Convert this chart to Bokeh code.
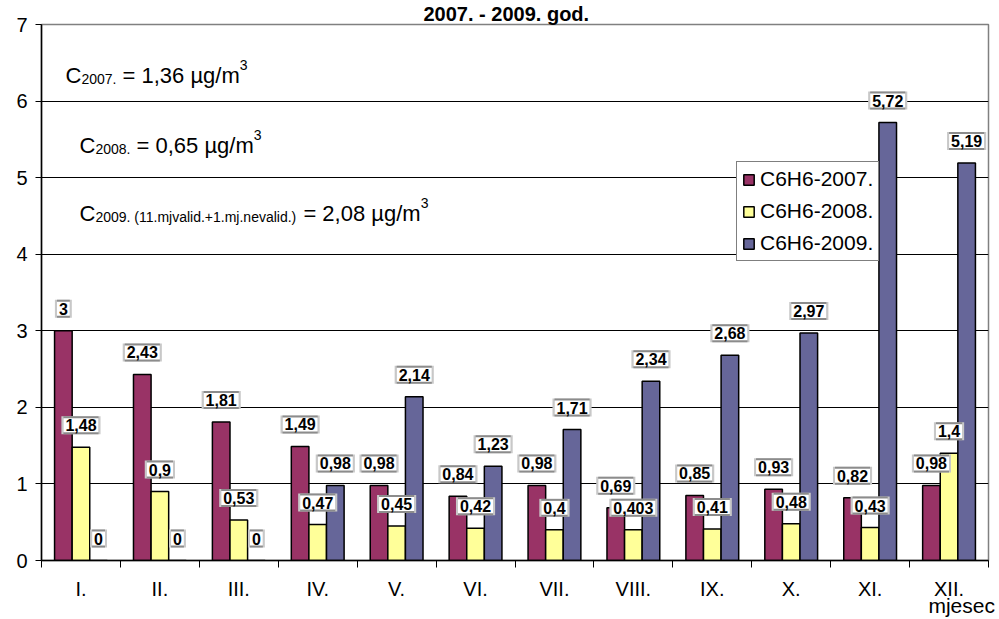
from bokeh.plotting import figure
from bokeh.models import (Range1d, FixedTicker, Legend, LegendItem, Label,
                          ColumnDataSource, LinearAxis, CustomJSTickFormatter)
from bokeh.core.properties import value
from bokeh.embed import file_html
from bokeh.resources import INLINE

# Monthly benzene (C6H6) means, ug/m3
months = ["I.", "II.", "III.", "IV.", "V.", "VI.", "VII.", "VIII.", "IX.", "X.", "XI.", "XII."]
c6h6_2007 = [3, 2.43, 1.81, 1.49, 0.98, 0.84, 0.98, 0.69, 0.85, 0.93, 0.82, 0.98]
c6h6_2008 = [1.48, 0.9, 0.53, 0.47, 0.45, 0.42, 0.4, 0.403, 0.41, 0.48, 0.43, 1.4]
c6h6_2009 = [0, 0, 0, 0.98, 2.14, 1.23, 1.71, 2.34, 2.68, 2.97, 5.72, 5.19]
series_names = ["C6H6-2007.", "C6H6-2008.", "C6H6-2009."]
series_colors = ["#993366", "#FFFF99", "#666699"]
y_ticks = [0, 1, 2, 3, 4, 5, 6, 7]

title_text = "2007. - 2009. god."
x_title = "mjesec"
# annual means: (subscript, value text)
annual = [("2007.", "1,36"), ("2008.", "0,65"),
          ("2009. (11.mjvalid.+1.mj.nevalid.)", "2,08")]

FONT = "Liberation Sans"
BAR_W = 0.223

p = figure(width=999, height=619, x_range=Range1d(0.5, 12.5), y_range=Range1d(0, 7),
           output_backend="svg", toolbar_location=None,
           min_border_left=41, min_border_right=11, min_border_top=23,
           min_border_bottom=59)
p.background_fill_color = "white"
p.border_fill_color = "white"
p.outline_line_color = "#808080"
p.outline_line_width = 1.5

p.title.text = title_text
p.title.align = "left"
p.title.offset = 382
p.title.standoff = 0
p.title.text_font = FONT
p.title.text_font_size = "20px"
p.title.text_font_style = "bold"
p.title.text_color = "black"

p.xgrid.visible = False
p.ygrid.grid_line_color = "#000000"
p.ygrid.grid_line_width = 1

# y axis
p.yaxis.ticker = FixedTicker(ticks=y_ticks, minor_ticks=[])
p.yaxis.major_tick_out = 6
p.yaxis.major_tick_in = 0
p.yaxis.major_tick_line_color = "black"
p.yaxis.axis_line_color = "black"
p.yaxis.axis_line_width = 1.5
p.yaxis.major_label_text_font = FONT
p.yaxis.major_label_text_font_size = "20px"
p.yaxis.major_label_text_color = "black"
p.yaxis.major_label_standoff = 8

# x axis: labels at month centres, tick marks between months
centers = list(range(1, len(months) + 1))
bounds = [c - 0.5 for c in centers] + [len(months) + 0.5]
p.xaxis.ticker = FixedTicker(ticks=centers, minor_ticks=bounds)
p.xaxis.major_label_overrides = {c: m for c, m in zip(centers, months)}
p.xaxis.major_tick_out = 0
p.xaxis.major_tick_in = 0
p.xaxis.minor_tick_out = 7
p.xaxis.minor_tick_in = 0
p.xaxis.minor_tick_line_color = "black"
p.xaxis.axis_line_color = "black"
p.xaxis.axis_line_width = 1.5
p.xaxis.major_label_text_font = FONT
p.xaxis.major_label_text_font_size = "20px"
p.xaxis.major_label_text_color = "black"
p.xaxis.major_label_standoff = 10

# axis title under the last month label
x_name_axis = LinearAxis(ticker=FixedTicker(ticks=[12.16], minor_ticks=[]),
                         formatter=CustomJSTickFormatter(code=f"return '{x_title}';"),
                         axis_line_color=None, major_tick_line_color=None,
                         major_tick_out=0, major_tick_in=0,
                         major_label_standoff=-9, major_label_text_font=FONT,
                         major_label_text_font_size="21px",
                         major_label_text_color="black")
p.add_layout(x_name_axis, "below")


def fmt(v):
    return f"{v:g}".replace(".", ",")


series = [c6h6_2007, c6h6_2008, c6h6_2009]
offsets = [-BAR_W, 0, BAR_W]
bar_renderers = []
sources = []
for vals, off, col in zip(series, offsets, series_colors):
    src = ColumnDataSource(dict(x=[c + off for c in centers], top=vals,
                                label=[fmt(v) for v in vals]))
    sources.append(src)
    r = p.vbar(x="x", top="top", width=BAR_W, source=src, fill_color=col,
               line_color="black", line_width=1.5)
    bar_renderers.append(r)

# value labels: white boxes with a grey shaded top edge
for src in sources:
    common = dict(x="x", y="top", text="label", source=src, text_align="center",
                  text_baseline="middle", y_offset=-22,
                  text_font=value(FONT), text_font_style="bold",
                  text_font_size="16px")
    p.text(text_alpha=0, background_fill_color="#c8c8c8",
           padding=dict(left=4, right=4, top=5, bottom=1), **common)
    p.text(text_alpha=0, background_fill_color="#8c8c8c",
           padding=dict(left=2, right=2, top=5, bottom=1), **common)
    p.text(text_color="black", background_fill_color="white",
           padding=dict(left=2, right=2, top=1, bottom=1), **common)

legend = Legend(items=[LegendItem(label=n, renderers=[r])
                       for n, r in zip(series_names, bar_renderers)],
                location=(695, 299), border_line_color="black", border_line_width=1,
                background_fill_color="white", background_fill_alpha=1,
                padding=5, spacing=8, margin=0, glyph_width=13, glyph_height=13,
                label_standoff=5, label_height=24, label_text_font=FONT,
                label_text_font_size="21px", label_text_color="black")
p.add_layout(legend)

# frame-relative pixel helpers (frame left = 41, frame bottom = 560 in canvas)
FL, FB = 41, 560
ARIAL = {" ": 278, ".": 278, ",": 278, "=": 584, "+": 584, "(": 333, ")": 333,
         "/": 278, "C": 722, "g": 556, "m": 833, "j": 222, "v": 500, "a": 556,
         "l": 222, "i": 222, "d": 556, "n": 556, "e": 556, "\u00b5": 576}


def text_w(s, size):
    return sum(ARIAL.get(ch, 556) for ch in s) / 1000 * size


def add_text(sx, sy, txt, size):
    p.add_layout(Label(x=sx - FL, y=FB - sy, x_units="screen", y_units="screen",
                       text=txt, text_font=FONT, text_font_size=f"{size}px",
                       text_color="black", text_align="left",
                       text_baseline="alphabetic"))


# annual mean annotations with sub- and superscripts
starts = [(65, 75), (79, 145), (79, 213)]
for (sx, base), (sub, val) in zip(starts, annual):
    runs = [("C", 22, 0), (sub, 14, 3), (" ", 22, 0),
            (f"= {val} \u00b5g/m", 22, 0), ("3", 14, -11)]
    x = sx
    for txt, size, dy in runs:
        if txt.strip():
            add_text(x, base + dy, txt, size)
        x += text_w(txt, size)

open("out.html", "w").write(file_html(p, INLINE))
